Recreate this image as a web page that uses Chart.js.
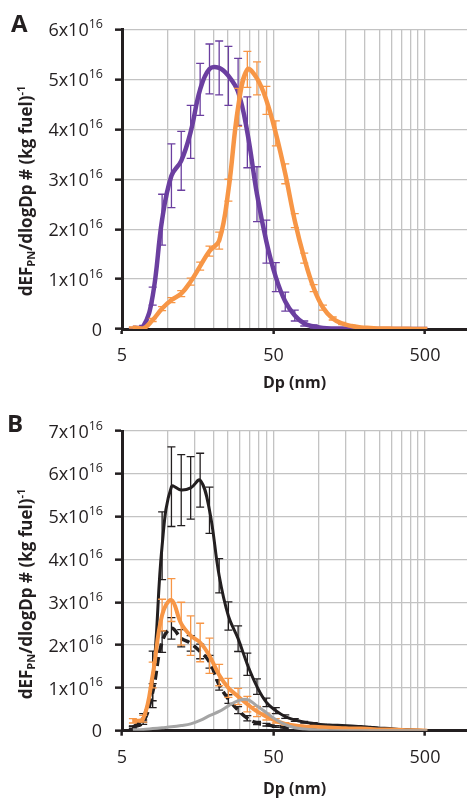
<!DOCTYPE html>
<html>
<head>
<meta charset="utf-8">
<script src="https://cdn.jsdelivr.net/npm/chart.js@4"></script>
<style>
  body { margin: 0; background: #fff; font-family: 'Open Sans', sans-serif; color: #231f20; }
  #wrap { position: relative; width: 467px; height: 801px; overflow: hidden; }
  canvas { position: absolute; left: 0; }
  #cA { top: 0; }
  #cB { top: 400px; }
  .letter { position: absolute; font-weight: bold; font-size: 24px; line-height: 1; }
  .ytitle { position: absolute; font-weight: bold; font-size: 17px; white-space: nowrap;
            transform: translate(-50%, -50%) rotate(-90deg); line-height: 1; }
  .ytitle sub { font-size: 11px; vertical-align: -3px; }
  .ytitle sup { font-size: 11px; vertical-align: 7px; }
</style>
</head>
<body>
<div id="wrap">
  <canvas id="cA" width="467" height="400"></canvas>
  <canvas id="cB" width="467" height="401"></canvas>
  <div class="letter" style="left:11px;top:11px;">A</div>
  <div class="letter" style="left:7px;top:411px;">B</div>
  <div class="ytitle" style="left:25px;top:191px;">dEF<sub>PN</sub>/dlogDp # (kg fuel)<sup>-1</sup></div>
  <div class="ytitle" style="left:25px;top:594px;">dEF<sub>PN</sub>/dlogDp # (kg fuel)<sup>-1</sup></div>
</div>
<script>
// particle diameter (nm), values in units of 1e16
const diam = [5.9, 6.90, 7.97, 9.20, 10.6, 12.3, 14.2, 16.4, 18.9, 21.9, 25.2, 29.2, 33.6, 38.9, 44.9, 51.8,
              59.8, 69.1, 79.8, 92.1, 106, 123, 142, 164, 189, 218, 252, 291, 336, 389, 449, 518];

// panel A
const purpleA = [0.02, 0.05, 0.66, 2.19, 3.07, 3.37, 3.95, 4.80, 5.21, 5.23, 5.07, 4.75, 3.94, 2.70, 1.75, 1.04,
                 0.55, 0.27, 0.11, 0.05, 0.02, 0.01, 0.01, 0, 0, 0, 0, 0, 0, 0, 0, 0];
const purpleErrA = [0.01, 0.02, 0.18, 0.51, 0.64, 0.59, 0.53, 0.52, 0.50, 0.54, 0.59, 0.67, 0.71, 0.55, 0.43, 0.29,
                    0.19, 0.11, 0.05, 0.03, 0.01, 0, 0, 0, 0, 0, 0, 0, 0, 0, 0, 0];
const orangeA = [0.03, 0.01, 0.18, 0.41, 0.58, 0.71, 0.95, 1.26, 1.56, 1.77, 2.78, 4.44, 5.20, 5.02, 4.58, 3.92,
                 3.11, 2.17, 1.42, 0.82, 0.43, 0.21, 0.11, 0.06, 0.03, 0.02, 0.01, 0.01, 0.005, 0.005, 0, 0];
const orangeErrA = [0.01, 0.01, 0.03, 0.04, 0.05, 0.06, 0.07, 0.08, 0.10, 0.17, 0.22, 0.38, 0.36, 0.33, 0.28, 0.25,
                    0.20, 0.14, 0.10, 0.07, 0.05, 0.03, 0.02, 0.01, 0, 0, 0, 0, 0, 0, 0, 0];

// panel B
const blackB = [0.08, 0.3, 1.2, 4.32, 5.70, 5.62, 5.67, 5.85, 5.15, 3.62, 2.68, 2.15, 1.55, 1.03, 0.66, 0.47,
                0.33, 0.25, 0.20, 0.17, 0.14, 0.13, 0.12, 0.11, 0.10, 0.08, 0.06, 0.05, 0.03, 0.02, 0.01, 0];
const blackErrB = [0.03, 0.1, 0.66, 0.79, 0.93, 0.83, 0.73, 0.63, 0.54, 0.40, 0.33, 0.30, 0.26, 0.18, 0.10, 0.07,
                   0.04, 0.03, 0.02, 0.02, 0.01, 0, 0, 0, 0, 0, 0, 0, 0, 0, 0, 0];
const orangeB = [0.23, 0.28, 1.3, 2.7, 3.05, 2.5, 2.22, 2.06, 1.75, 1.3, 1.0, 0.8, 0.62, 0.45, 0.33, 0.23,
                 0.16, 0.12, 0.10, 0.09, 0.08, 0.07, 0.06, 0.05, 0.05, 0.04, 0.03, 0.03, 0.02, 0.01, 0.01, 0];
const orangeErrB = [0.05, 0.08, 0.3, 0.37, 0.5, 0.5, 0.46, 0.45, 0.41, 0.25, 0.22, 0.19, 0.18, 0.12, 0.08, 0.05,
                    0.03, 0.02, 0, 0, 0, 0, 0, 0, 0, 0, 0, 0, 0, 0, 0, 0];
const dashedB = [0.08, 0.2, 0.9, 2.08, 2.39, 2.16, 2.04, 1.85, 1.61, 1.07, 0.74, 0.48, 0.29, 0.18, 0.14, 0.10,
                 0.08, 0.06, 0.05, 0.04, 0.04, 0.03, 0.02, 0.02, 0.01, 0.01, 0, 0, 0, 0, 0, 0];
const dashedErrB = [0.02, 0.05, 0.2, 0.25, 0.25, 0.2, 0.18, 0.17, 0.15, 0.12, 0.1, 0.08, 0.06, 0.04, 0.03, 0.02,
                    0.01, 0, 0, 0, 0, 0, 0, 0, 0, 0, 0, 0, 0, 0, 0, 0];
const grayB = [0.02, 0.03, 0.05, 0.07, 0.09, 0.12, 0.16, 0.24, 0.35, 0.45, 0.58, 0.70, 0.73, 0.58, 0.42, 0.26,
               0.14, 0.07, 0.04, 0.02, 0.01, 0, 0, 0, 0, 0, 0, 0, 0, 0, 0, 0];

// axis
const xGrid = [5, 10, 15, 20, 25, 30, 35, 40, 45, 50, 100, 150, 200, 250, 300, 350, 400, 450, 500];
const xLabelled = [5, 50, 500];
const xMax = 947;

const ink = '#231f20';
const purple = '#6b3fa0';
const orange = '#f79646';
const gray = '#a5a5a5';
const gridGray = '#c3c3c3';

Chart.defaults.font.family = "'Open Sans', sans-serif";
Chart.defaults.color = ink;

const pts = arr => arr.map((v, i) => ({x: diam[i], y: v}));

const errorBars = {
  id: 'errorBars',
  afterDatasetDraw(chart, args) {
    const ds = chart.data.datasets[args.index];
    if (!ds.errors) return;
    const {ctx, chartArea} = chart;
    const xs = chart.scales.x, ys = chart.scales.y;
    ctx.save();
    ctx.beginPath();
    ctx.rect(chartArea.left, chartArea.top - 10, chartArea.width, chartArea.height + 10);
    ctx.clip();
    ctx.strokeStyle = ds.errorColor || ds.borderColor;
    ctx.lineWidth = 1.3;
    ds.data.forEach((p, i) => {
      const e = ds.errors[i];
      if (!e) return;
      const px = xs.getPixelForValue(p.x);
      const y1 = ys.getPixelForValue(p.y + e);
      const y2 = ys.getPixelForValue(p.y - e);
      ctx.beginPath();
      ctx.moveTo(px, y1); ctx.lineTo(px, y2);
      ctx.moveTo(px - 4, y1); ctx.lineTo(px + 4, y1);
      ctx.moveTo(px - 4, y2); ctx.lineTo(px + 4, y2);
      ctx.stroke();
    });
    ctx.restore();
  }
};

const sciLabels = {
  id: 'sciLabels',
  afterDraw(chart) {
    const s = chart.scales.y, ctx = chart.ctx;
    const right = chart.chartArea.left - 19;
    const mainFont = "18px 'Open Sans'";
    const supFont = "12.5px 'Open Sans'";
    ctx.save();
    ctx.fillStyle = ink;
    ctx.textBaseline = 'middle';
    s.ticks.forEach(t => {
      const py = s.getPixelForValue(t.value) + 1.5;
      ctx.font = mainFont;
      if (t.value === 0) {
        ctx.textAlign = 'right';
        ctx.fillText('0', right - 1, py);
        return;
      }
      ctx.textAlign = 'left';
      const base = t.value + 'x10';
      const w1 = ctx.measureText(base).width;
      ctx.font = supFont;
      const w2 = ctx.measureText('16').width;
      const x0 = right - w1 - w2;
      ctx.font = mainFont;
      ctx.fillText(base, x0, py);
      ctx.font = supFont;
      ctx.fillText('16', x0 + w1, py - 6.5);
    });
    ctx.restore();
  }
};

function makeOptions(yMax, padTop, xHeight, titlePad) {
  return {
    responsive: false,
    animation: false,
    layout: { padding: { top: padTop, left: 0, right: 0, bottom: 0 } },
    plugins: { legend: { display: false }, tooltip: { enabled: false } },
    elements: { point: { radius: 0 } },
    scales: {
      x: {
        type: 'logarithmic',
        min: 5,
        max: xMax,
        afterBuildTicks: s => { s.ticks = xGrid.map(v => ({value: v})); },
        afterFit: s => { s.height = xHeight; },
        ticks: {
          autoSkip: false,
          maxRotation: 0,
          padding: 11,
          font: { size: 18 },
          color: ink,
          callback: v => xLabelled.includes(v) ? String(v) : ''
        },
        grid: {
          color: gridGray,
          lineWidth: 1.3,
          tickLength: 5,
          tickWidth: 2.5,
          tickColor: c => xLabelled.includes(c.tick && c.tick.value) ? ink : 'rgba(0,0,0,0)'
        },
        border: { color: ink, width: 3 },
        title: {
          display: true,
          text: 'Dp (nm)',
          font: { size: 16, weight: 'bold' },
          color: ink,
          padding: { top: 0, bottom: titlePad }
        }
      },
      y: {
        min: 0,
        max: yMax,
        afterFit: s => { s.width = 122; },
        ticks: { stepSize: 1, display: false },
        grid: { color: gridGray, lineWidth: 1.3, tickLength: 7, tickWidth: 2.5, tickColor: ink },
        border: { color: ink, width: 3 }
      }
    }
  };
}

const chartA = new Chart(document.getElementById('cA'), {
  type: 'line',
  data: {
    datasets: [
      { data: pts(purpleA), errors: purpleErrA, borderColor: purple, borderWidth: 4.5, tension: 0.4, order: 2 },
      { data: pts(orangeA), errors: orangeErrA, borderColor: orange, borderWidth: 4.5, tension: 0.4, order: 1 }
    ]
  },
  options: makeOptions(6, 29.5, 71, 7),
  plugins: [errorBars, sciLabels]
});

const chartB = new Chart(document.getElementById('cB'), {
  type: 'line',
  data: {
    datasets: [
      { data: pts(blackB), errors: blackErrB, borderColor: ink, borderWidth: 3, tension: 0.4, order: 4 },
      { data: pts(dashedB), errors: dashedErrB, borderColor: ink, borderWidth: 3.5, borderDash: [9, 5], tension: 0.4, order: 3 },
      { data: pts(orangeB), errors: orangeErrB, borderColor: orange, borderWidth: 4, tension: 0.4, order: 2 },
      { data: pts(grayB), borderColor: gray, borderWidth: 3, tension: 0.4, order: 1 }
    ]
  },
  options: makeOptions(7, 31, 70.3, 2),
  plugins: [errorBars, sciLabels]
});
</script>
</body>
</html>
